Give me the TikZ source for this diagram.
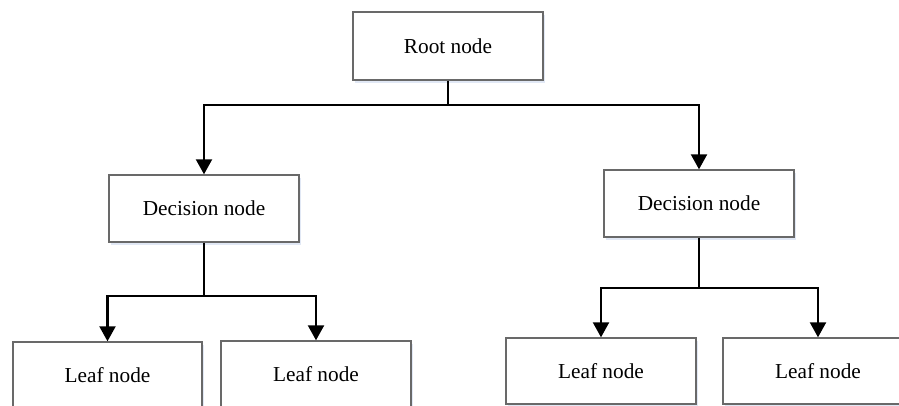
\documentclass[tikz,border=0pt]{standalone}
\usepackage{fontspec}
\setmainfont{Liberation Serif}
\usetikzlibrary{arrows.meta}
\definecolor{boxline}{RGB}{105,105,105}
\definecolor{shadowc}{RGB}{225,232,245}
\begin{document}
\begin{tikzpicture}[x=1pt,y=-1pt,
  box/.style={draw=boxline, line width=1.4pt, fill=white, minimum width=190pt, minimum height=67pt, inner sep=0pt, font=\fontsize{21.3}{24}\selectfont,
    preaction={draw=none, fill=shadowc, transform canvas={xshift=2pt,yshift=-3pt}}},
  arr/.style={draw=black, line width=2.2pt, -{Triangle[width=16pt,length=15pt]}},
  ln/.style={draw=black, line width=2.2pt}]
\useasboundingbox (0,0) rectangle (899,405);
\clip (0,0) rectangle (899,405);
\fill[white] (0,0) rectangle (899,405);
\node[box, minimum height=68pt] (root) at (448,46) {Root node};
\node[box] (decL) at (204,208.5) {Decision node};
\node[box] (decR) at (699,203.5) {Decision node};
\node[box, minimum width=189pt] (leafL1) at (107.5,375.5) {Leaf node};
\node[box] (leafL2) at (316,374.5) {Leaf node};
\node[box, minimum height=66pt] (leafR1) at (601,371) {Leaf node};
\node[box, minimum height=66pt] (leafR2) at (818,371) {Leaf node};
\coordinate (j0) at (448,105);
\coordinate (j1) at (204,296);
\coordinate (j2) at (699,288);
\draw[ln] (root.south) -- (j0);
\draw[arr] (j0) -| (decL.north);
\draw[arr] (j0) -| (decR.north);
\draw[ln] (decL.south) -- (j1);
\draw[arr] (j1) -| (leafL1.north);
\draw[arr] (j1) -| (leafL2.north);
\draw[ln] (decR.south) -- (j2);
\draw[arr] (j2) -| (leafR1.north);
\draw[arr] (j2) -| (leafR2.north);
\end{tikzpicture}
\end{document}
